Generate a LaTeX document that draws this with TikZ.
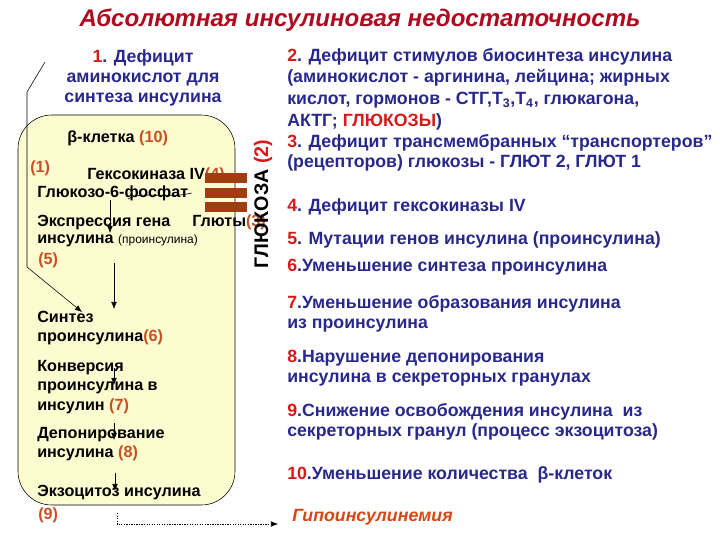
\documentclass[tikz,border=0pt]{standalone}
\usepackage{fontspec}
\setmainfont{Liberation Sans}
\usetikzlibrary{arrows.meta, positioning, calc}

\definecolor{txtblue}{RGB}{40,40,140}
\definecolor{numred}{RGB}{215,25,25}
\definecolor{numorg}{RGB}{200,80,35}
\definecolor{ttlred}{RGB}{175,10,30}
\definecolor{cellyel}{RGB}{253,251,208}
\definecolor{barbrown}{RGB}{160,62,18}
\definecolor{hypocol}{RGB}{215,70,20}

\newcommand{\nr}[1]{\textcolor{numred}{#1}}
\newcommand{\no}[1]{\textcolor{numorg}{#1}}

\tikzset{
  txt/.style={anchor=west, inner sep=0pt, text=txtblue, font=\fontsize{12.6}{14.5}\selectfont\bfseries, align=left},
  celltxt/.style={anchor=west, inner sep=0pt, text=black, font=\fontsize{11.5}{14}\selectfont\bfseries, align=left},
  numtxt/.style={anchor=west, inner sep=0pt, text=numorg, font=\fontsize{11.5}{14}\selectfont\bfseries},
  flow/.style={-{Latex[length=5pt,width=4pt]}, thin}
}

\begin{document}
\begin{tikzpicture}[x=0.025cm, y=-0.025cm]
  \useasboundingbox (0,0) rectangle (720,540);

  % title
  \node[text=ttlred, font=\fontsize{17.1}{20}\selectfont\bfseries\itshape] (title) at (360,20) {Абсолютная инсулиновая недостаточность};

  % beta cell
  \draw[fill=cellyel, rounded corners=24pt] (18,115) rectangle (235,505);

  \node[txt, anchor=center, align=center] (aa) at (143,78) {\nr{1}. Дефицит\\аминокислот для\\синтеза инсулина};

  \node[celltxt] (beta) at (67,138) {β-клетка \no{(10)}};
  \node[numtxt] (n1) at (30,168) {(1)};
  \node[celltxt] (hexo) at (87,175) {Гексокиназа IV\no{(4)}};
  \node[celltxt] (g6p) at (37,193) {Глюкозо-6-фосфат};
  \node[celltxt] (expr) at (37,223) {Экспрессия гена};
  \node[celltxt] (gluts) at (192,222) {Глюты\no{(3)}};
  \node[celltxt] (ins) at (37,241) {инсулина {\mdseries\fontsize{8.5}{10}\selectfont (проинсулина)}};
  \node[numtxt] (n5) at (38,260) {(5)};
  \node[celltxt] (synth) at (37,328) {Синтез\\проинсулина\no{(6)}};
  \node[celltxt] (conv) at (37,387) {Конверсия\\проинсулина в\\инсулин \no{(7)}};
  \node[celltxt] (depo) at (37,444) {Депонирование\\инсулина \no{(8)}};
  \node[celltxt] (exo) at (37,493) {Экзоцитоз инсулина};
  \node[numtxt] (n9) at (38,515) {(9)};

  % transporters in the membrane
  \foreach \y in {173,188,202} {
    \fill[barbrown] (205,\y) rectangle (247,\y+10);
  }

  \node[rotate=90, font=\fontsize{14}{16}\selectfont\bfseries] (glu) at (263,204) {ГЛЮКОЗА \nr{(2)}};

  % arrows inside the cell
  \draw (128,199) .. controls (145,190) and (160,200) .. (192,193);
  \coordinate (e1) at (110,200); \coordinate (e2) at (110,233);
  \draw[flow] (e1) -- (e2);
  \coordinate (s1) at (114,263); \coordinate (s2) at (114,309);
  \draw[flow] (s1) -- (s2);
  \coordinate (c1) at (114,368); \coordinate (c2) at (114,385);
  \draw[flow] (c1) -- (c2);
  \coordinate (d1) at (114,423); \coordinate (d2) at (114,440);
  \draw[flow] (d1) -- (d2);
  \coordinate (x1) at (115,473); \coordinate (x2) at (115,491);
  \draw[flow] (x1) -- (x2);

  % amino acid route
  \coordinate (a1) at (45,62);
  \coordinate (a2) at (27,92);
  \coordinate (a3) at (27,267);
  \coordinate (a4) at (82,312);
  \draw[flow] (a1) -- (a2) -- (a3) -- (a4);

  % right column
  \node[txt] (r2) at (287,57) {\nr{2}. Дефицит стимулов биосинтеза инсулина};
  \node[txt] (r2b) at (287,78) {(аминокислот - аргинина, лейцина; жирных};
  \node[txt] (r2c) at (287,100) {кислот, гормонов - СТГ,Т\textsubscript{3},Т\textsubscript{4}, глюкагона,};
  \node[txt] (r2d) at (287,122) {АКТГ; \nr{ГЛЮКОЗЫ})};
  \node[txt] (r3) at (287,143) {\nr{3}. Дефицит трансмембранных ``транспортеров''};
  \node[txt] (r3b) at (287,163) {(рецепторов) глюкозы - ГЛЮТ 2, ГЛЮТ 1};
  \foreach \y/\t in {207/{\nr{4}. Дефицит гексокиназы IV},
                     240/{\nr{5}. Мутации генов инсулина (проинсулина)},
                     267/{\nr{6}.Уменьшение синтеза проинсулина},
                     314/{\nr{7}.Уменьшение образования инсулина\\из проинсулина},
                     368/{\nr{8}.Нарушение депонирования\\инсулина в секреторных гранулах},
                     422/{\nr{9}.Снижение освобождения инсулина~ из\\секреторных гранул (процесс экзоцитоза)},
                     475/{\nr{10}.Уменьшение количества~ β-клеток}} {
    \node[txt] (r\y) at (287,\y) {\t};
  }
  \node[txt, text=hypocol, font=\fontsize{12.6}{14}\selectfont\bfseries\itshape] (hypo) at (292,517) {Гипоинсулинемия};

  % exocytosis output
  \coordinate (o1) at (117,513);
  \coordinate (o2) at (117,524);
  \coordinate (o3) at (278,524);
  \draw[line width=0.9pt, dash pattern=on 0.9pt off 0.9pt, flow] (o1) -- (o2) -- (o3);
\end{tikzpicture}
\end{document}
